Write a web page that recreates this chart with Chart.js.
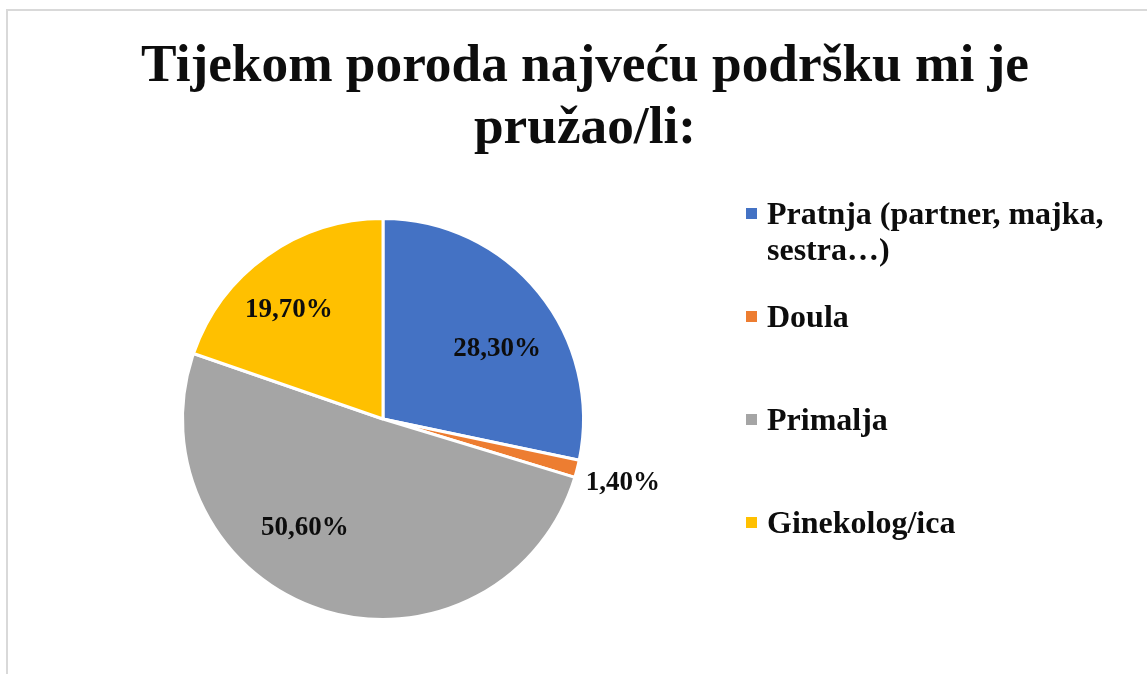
<!DOCTYPE html>
<html>
<head>
<meta charset="utf-8">
<script src="https://cdn.jsdelivr.net/npm/chart.js@4.4.1/dist/chart.umd.min.js"></script>
<style>
    html, body { margin: 0; padding: 0; background: #fff; overflow: hidden; }
    #frame {
        position: absolute; left: 6px; top: 9px;
        width: 1180px; height: 700px;
        border: 2px solid #d9d9d9;
    }
    #supportChart { position: absolute; left: 0; top: 0; }
</style>
</head>
<body>
<div id="frame"></div>
<canvas id="supportChart" width="1147" height="674"></canvas>
<script>
// ===== chart data =====
const titleLines = ['Tijekom poroda najveću podršku mi je', 'pružao/li:'];
const categories = ['Pratnja (partner, majka, sestra…)', 'Doula', 'Primalja', 'Ginekolog/ica'];
const percentages = [28.3, 1.4, 50.6, 19.7];
const colors = ['#4472C4', '#ED7D31', '#A5A5A5', '#FFC000'];

// label placement (fraction of radius, turn from slice middle in degrees)
const labelRadius = [0.675, 1.235, 0.658, 0.729];
const labelTurn = [6.6, 0, 18.3, -4.6];

const SERIF = '"Liberation Serif", "Times New Roman", serif';
const TEXT_COLOR = '#0d0d0d';

function formatPercent(v) {
    return v.toFixed(2).replace('.', ',') + '%';
}

// split text into lines that fit maxWidth
function wrapText(ctx, text, maxWidth) {
    const words = text.split(' ');
    const lines = [];
    let line = '';
    words.forEach(w => {
        const test = line ? line + ' ' + w : w;
        if (line && ctx.measureText(test).width > maxWidth) {
            lines.push(line);
            line = w;
        } else {
            line = test;
        }
    });
    if (line) lines.push(line);
    return lines;
}

/**
 * Title, data labels and legend, drawn after the pie
 */
const decorPlugin = {
    id: 'decor',
    afterDraw(chart) {
        const ctx = chart.ctx;
        ctx.save();
        ctx.fillStyle = TEXT_COLOR;

        // title, centred in the frame
        ctx.font = 'bold 53.3px ' + SERIF;
        ctx.textAlign = 'center';
        ctx.textBaseline = 'alphabetic';
        titleLines.forEach((line, i) => {
            ctx.fillText(line, 585, 81 + i * 62);
        });

        // data labels
        const meta = chart.getDatasetMeta(0);
        ctx.font = 'bold 27px ' + SERIF;
        ctx.textBaseline = 'middle';
        meta.data.forEach((arc, i) => {
            const p = arc.getProps(['x', 'y', 'startAngle', 'endAngle', 'outerRadius'], true);
            const mid = (p.startAngle + p.endAngle) / 2 + labelTurn[i] * Math.PI / 180;
            const r = p.outerRadius * labelRadius[i];
            ctx.fillText(formatPercent(percentages[i]), p.x + Math.cos(mid) * r, p.y + Math.sin(mid) * r + 2.5);
        });

        // legend
        const boxSize = 11;
        const legendX = 746;
        const firstY = 213.5;
        const pitch = 103;
        const lineGap = 35.5;
        ctx.font = 'bold 32px ' + SERIF;
        ctx.textAlign = 'left';
        chart.data.labels.forEach((label, i) => {
            const cy = firstY + i * pitch;
            ctx.fillStyle = colors[i];
            ctx.fillRect(legendX, cy - boxSize / 2, boxSize, boxSize);
            ctx.fillStyle = TEXT_COLOR;
            wrapText(ctx, label, 355).forEach((line, j) => {
                ctx.fillText(line, legendX + 21, cy + j * lineGap + 2.5);
            });
        });

        ctx.restore();
    }
};

new Chart(document.getElementById('supportChart').getContext('2d'), {
    type: 'pie',
    data: {
        labels: categories,
        datasets: [{
            data: percentages,
            backgroundColor: colors,
            borderColor: '#fff',
            borderWidth: 3,
            hoverOffset: 0
        }]
    },
    options: {
        responsive: false,
        animation: false,
        layout: {
            padding: { top: 217, bottom: 53, left: 100, right: 481 }
        },
        plugins: {
            legend: { display: false },
            title: { display: false },
            tooltip: { enabled: false }
        }
    },
    plugins: [decorPlugin]
});
</script>
</body>
</html>
